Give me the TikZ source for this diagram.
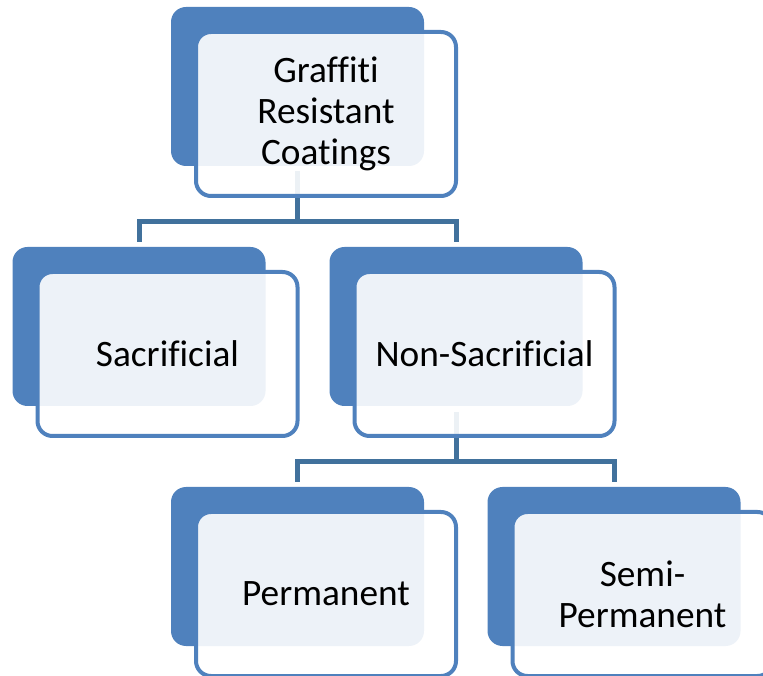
\documentclass[tikz,border=0pt]{standalone}
\usepackage{fontspec}
\setmainfont{Carlito}[Ligatures=NoCommon]
\usetikzlibrary{positioning}
\definecolor{accent}{HTML}{4F81BD}
\definecolor{linkblue}{HTML}{41719C}
\tikzset{
  backbox/.style={fill=accent, rounded corners=15pt, minimum width=253pt,
    minimum height=159pt, inner sep=0pt},
  frontbox/.style={draw=accent, line width=4pt, fill=white, fill opacity=0.9,
    text opacity=1, rounded corners=15pt, minimum width=260pt,
    minimum height=164pt, align=center, font=\fontsize{37.3}{41}\selectfont},
  link/.style={draw=linkblue, line width=5pt}
}
\begin{document}
\begin{tikzpicture}[x=1pt,y=1pt]
  \useasboundingbox (0,0) rectangle (763,675);
  \clip (0,0) rectangle (763,675);
  % dark boxes behind
  \node[backbox] (topb) at (297.5,588.5) {};
  \node[backbox] (sacb) at (139,348.5) {};
  \node[backbox] (nonb) at (456,348.5) {};
  \node[backbox] (permb) at (297.5,108.5) {};
  \node[backbox] (semib) at (614,108.5) {};
  % connectors
  \draw[link] ([yshift=-5pt]topb.south) -- ([yshift=-55pt]topb.south) -| ([yshift=5pt]sacb.north);
  \draw[link] ([yshift=-55pt]topb.south) -| ([yshift=5pt]nonb.north);
  \draw[link] ([yshift=-6pt]nonb.south) -- ([yshift=-55pt]nonb.south) -| ([yshift=5pt]permb.north);
  \draw[link] ([yshift=-55pt]nonb.south) -| ([yshift=5pt]semib.north);
  % front boxes with text
  \node[frontbox] (top) at ([xshift=28.5pt,yshift=-27.5pt]topb) {Graffiti\\Resistant\\Coatings};
  \node[frontbox] (sac) at ([xshift=28.5pt,yshift=-27.5pt]sacb) {Sacrificial};
  \node[frontbox] (non) at ([xshift=28.5pt,yshift=-27.5pt]nonb) {Non-Sacrificial};
  \node[frontbox] (perm) at ([xshift=28.5pt,yshift=-27.5pt]permb) {Permanent};
  \node[frontbox] (semi) at ([xshift=28.5pt,yshift=-27.5pt]semib) {Semi-\\Permanent};
\end{tikzpicture}
\end{document}
